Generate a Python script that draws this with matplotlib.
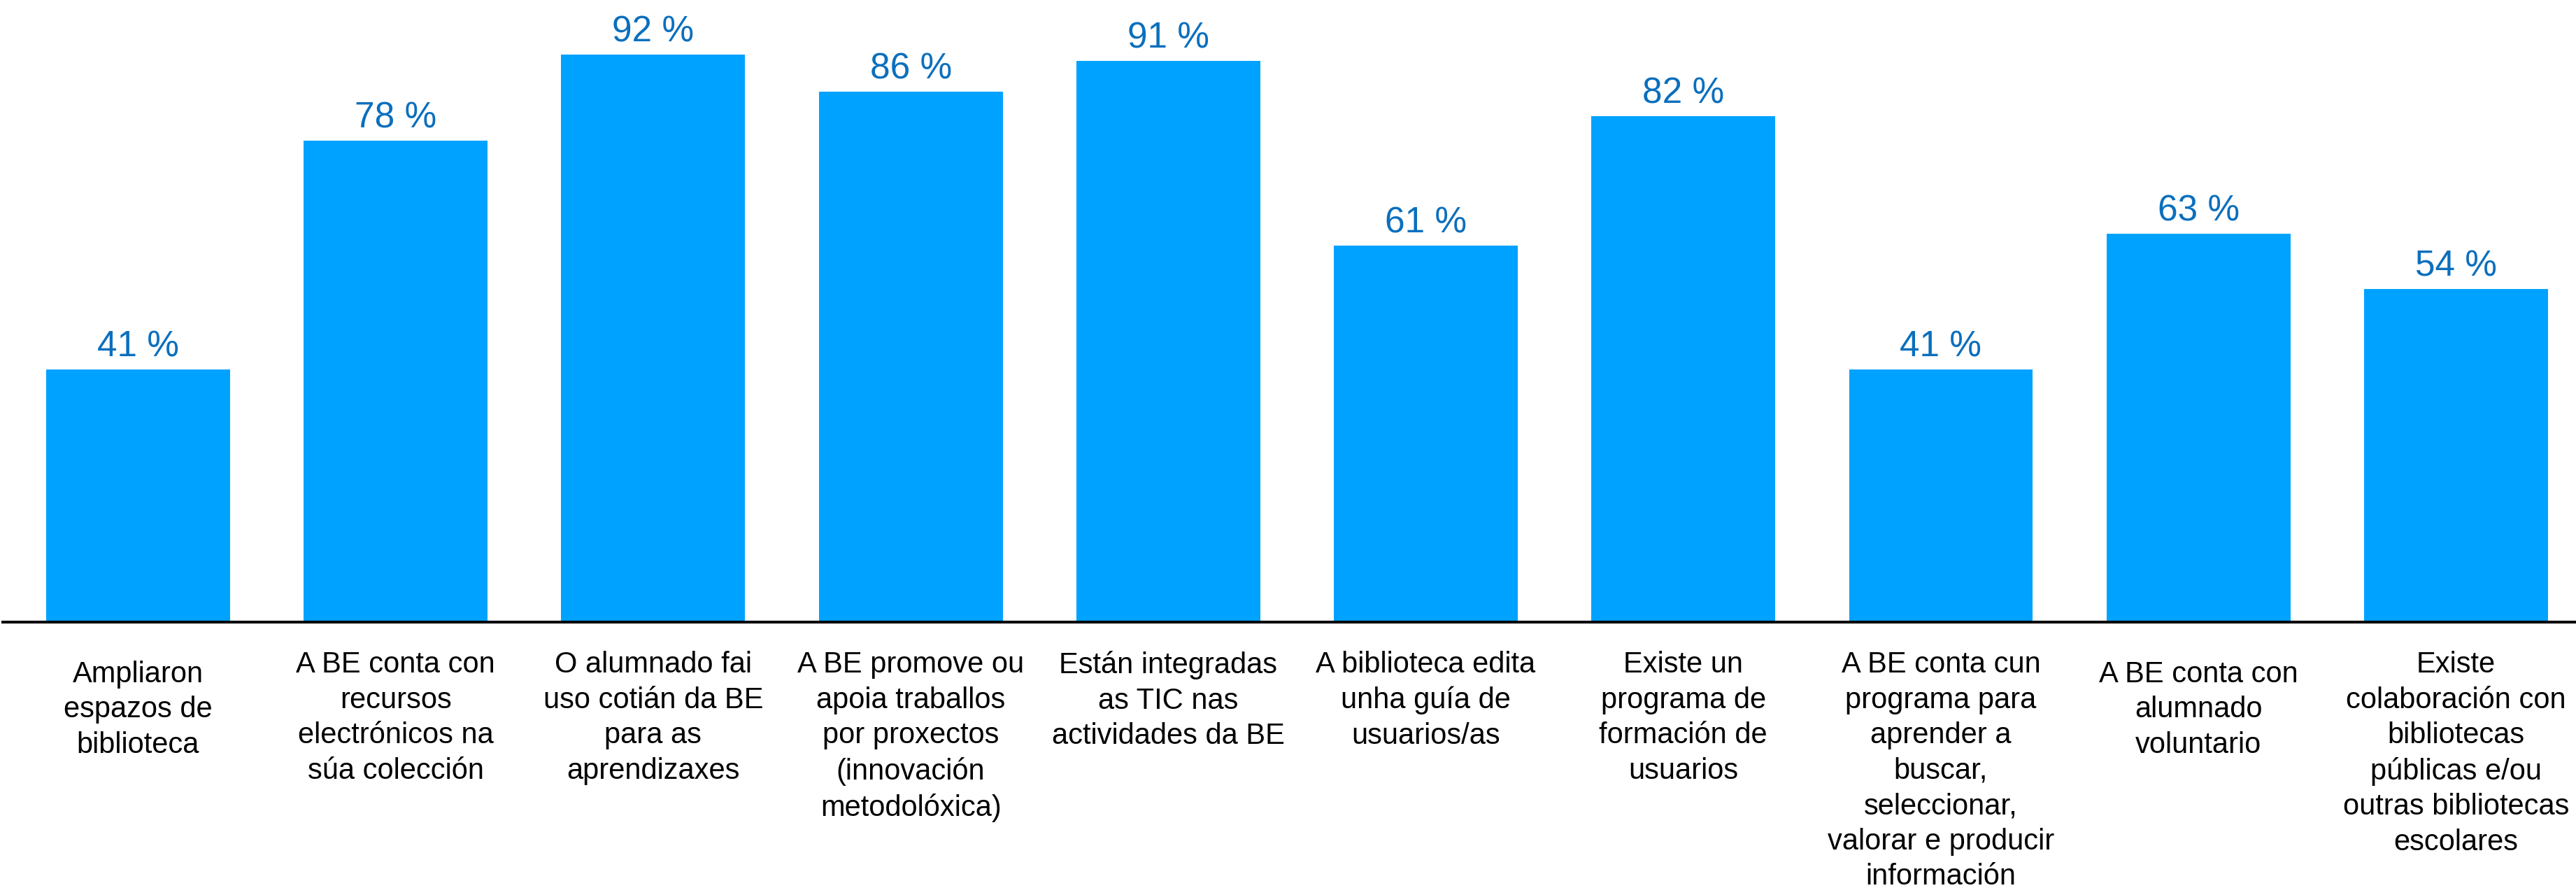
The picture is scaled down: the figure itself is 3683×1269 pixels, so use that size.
import matplotlib.pyplot as plt

plt.rcParams['font.family'] = ['Liberation Sans', 'DejaVu Sans']

# data
categories = [
    "Ampliaron\nespazos de\nbiblioteca",
    "A BE conta con\nrecursos\nelectrónicos na\nsúa colección",
    "O alumnado fai\nuso cotián da BE\npara as\naprendizaxes",
    "A BE promove ou\napoia traballos\npor proxectos\n(innovación\nmetodolóxica)",
    "Están integradas\nas TIC nas\nactividades da BE",
    "A biblioteca edita\nunha guía de\nusuarios/as",
    "Existe un\nprograma de\nformación de\nusuarios",
    "A BE conta cun\nprograma para\naprender a\nbuscar,\nseleccionar,\nvalorar e producir\ninformación",
    "A BE conta con\nalumnado\nvoluntario",
    "Existe\ncolaboración con\nbibliotecas\npúblicas e/ou\noutras bibliotecas\nescolares",
]
percent = [41, 78, 92, 86, 91, 61, 82, 41, 63, 54]

BAR_COLOR = '#00A2FF'
VALUE_COLOR = '#0B6FBD'

fig = plt.figure(figsize=(36.83, 12.69), dpi=100)
ax = fig.add_axes([4 / 3683, 380 / 1269, 1 - 4 / 3683, 889 / 1269])

x = list(range(len(categories)))
ax.bar(x, percent, width=0.714, color=BAR_COLOR, zorder=2)

ax.set_xlim(-0.5255, 9.466)
ax.set_ylim(0, 100.85)

for i, v in enumerate(percent):
    ax.annotate(f"{v} %", xy=(i, v), xytext=(0, 13.3), textcoords='offset points',
                ha='center', va='baseline', fontsize=37, color=VALUE_COLOR)

# category labels under the axis; the short ones sit a bit lower
for i, lab in enumerate(categories):
    drop = 9.8 if i in (0, 8) else 0
    ax.annotate(lab, xy=(i, 0), xytext=(0, -29.5 - drop), textcoords='offset points',
                ha='center', va='top', fontsize=30, color='black',
                linespacing=1.34, annotation_clip=False)

for side in ['top', 'right', 'left']:
    ax.spines[side].set_visible(False)
ax.spines['bottom'].set_linewidth(2.9)
ax.spines['bottom'].set_color('black')
ax.set_xticks([])
ax.set_yticks([])

fig.savefig('out.png', dpi=100)
